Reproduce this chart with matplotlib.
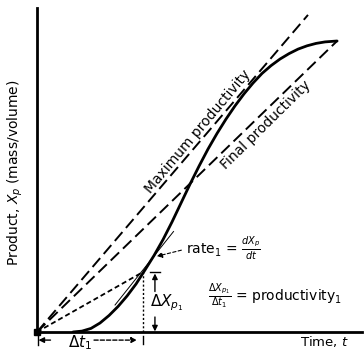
import matplotlib
matplotlib.use("Agg")
import matplotlib.pyplot as plt

# product curve (time, product)
time_curve = [1.2, 1.5, 1.8, 2.1, 2.4, 2.7, 3.0, 3.3, 3.6, 3.9, 4.2, 4.5,
              4.8, 5.1, 5.4, 5.7, 6.0, 6.3, 6.6, 6.9, 7.2, 7.5, 7.8, 8.1,
              8.4, 8.7, 9.0, 9.3, 9.6, 10.0]
product_curve = [0.0, 0.03, 0.12, 0.3, 0.55, 0.85, 1.2, 1.6, 2.07, 2.55,
                 3.08, 3.67, 4.3, 4.93, 5.53, 6.1, 6.62, 7.1, 7.54, 7.94,
                 8.3, 8.62, 8.88, 9.1, 9.28, 9.43, 9.54, 9.62, 9.67, 9.7]

# straight lines from the origin
max_line_t = [0.0, 9.03]
max_line_x = [0.0, 10.57]
final_line_t = [0.0, 10.0]
final_line_x = [0.0, 9.7]

# point 1 : chord and tangent
t1, x1 = 3.53, 2.0
rate_t, rate_x = 3.9, 2.5
tangent_t = [2.6, 4.55]
tangent_x = [0.9, 3.35]

fig = plt.figure(figsize=(3.64, 3.58), dpi=100)
ax = fig.add_axes([37 / 364, 26 / 358, 325 / 364, 324 / 358])
ax.set_xlim(0, 10.83)
ax.set_ylim(0, 10.8)
ax.set_xticks([])
ax.set_yticks([])
for s in ["top", "right"]:
    ax.spines[s].set_visible(False)
ax.spines["left"].set_linewidth(2)
ax.spines["bottom"].set_linewidth(2)

ax.plot(time_curve, product_curve, color="black", lw=2, solid_capstyle="round")
ax.plot(max_line_t, max_line_x, color="black", lw=1.4, dashes=(6, 2.8))
ax.plot(final_line_t, final_line_x, color="black", lw=1.4, dashes=(6, 2.8))
ax.plot([0, t1], [0, x1], color="black", lw=1.3, dashes=(2.8, 1.7))
ax.plot(tangent_t, tangent_x, color="black", lw=0.7)
ax.plot([t1, t1], [0, x1], color="black", lw=1, dashes=(1.5, 1.5))
ax.plot([0], [0], marker="s", color="black", ms=4, clip_on=False)

# texts along the lines
ax.text(5.37, 6.67, "Maximum productivity", rotation=50, ha="center",
        va="center", fontsize=10, rotation_mode="anchor")
ax.text(7.63, 6.9, "Final productivity", rotation=44.5, ha="center",
        va="center", fontsize=10, rotation_mode="anchor")

# rate annotation
ax.annotate("", xy=(rate_t, rate_x), xytext=(4.9, 2.75),
            arrowprops=dict(arrowstyle="-|>", color="black", lw=0.8,
                            linestyle=(0, (3, 2)), mutation_scale=8))
ax.text(4.95, 2.8, r"rate$_1$ = $\frac{dX_p}{dt}$", ha="left", va="center",
        fontsize=10)

# delta X arrows
xa = 3.93
ax.plot([xa - 0.17, xa + 0.17], [x1, x1], color="black", lw=1)
ax.annotate("", xy=(xa, x1 - 0.05), xytext=(xa, 1.35),
            arrowprops=dict(arrowstyle="-|>", color="black", lw=1,
                            mutation_scale=8, shrinkA=0, shrinkB=0))
ax.annotate("", xy=(xa, 0.02), xytext=(xa, 0.5),
            arrowprops=dict(arrowstyle="-|>", color="black", lw=1,
                            mutation_scale=8, shrinkA=0, shrinkB=0))
ax.text(3.75, 0.97, r"$\Delta X_{p_1}$", ha="left", va="center", fontsize=11)

# delta t arrows below axis
yt = -0.27
ax.plot([0.03, 0.03], [-0.12, -0.42], color="black", lw=1, clip_on=False)
ax.plot([t1, t1], [-0.14, -0.4], color="black", lw=1, clip_on=False)
ax.annotate("", xy=(0.05, yt), xytext=(0.45, yt), annotation_clip=False,
            arrowprops=dict(arrowstyle="-|>", color="black", lw=1,
                            mutation_scale=8, shrinkA=0, shrinkB=0))
ax.annotate("", xy=(3.33, yt), xytext=(1.9, yt), annotation_clip=False,
            arrowprops=dict(arrowstyle="-|>", color="black", lw=1,
                            linestyle=(0, (3, 1.5)), mutation_scale=8,
                            shrinkA=0, shrinkB=0))
ax.text(1.43, -0.37, r"$\Delta t_1$", ha="center", va="center", fontsize=11)

ax.text(5.7, 1.17, r"$\frac{\Delta X_{p_1}}{\Delta t_1}$ = productivity$_1$",
        ha="left", va="center", fontsize=10)
ax.text(8.77, -0.33, r"Time, $t$", ha="left", va="center", fontsize=9.5)

fig.text(15 / 364, 1 - 173 / 358, r"Product, $X_p$ (mass/volume)",
         rotation=90, ha="center", va="center", fontsize=10)

fig.savefig("out.png", dpi=100)
